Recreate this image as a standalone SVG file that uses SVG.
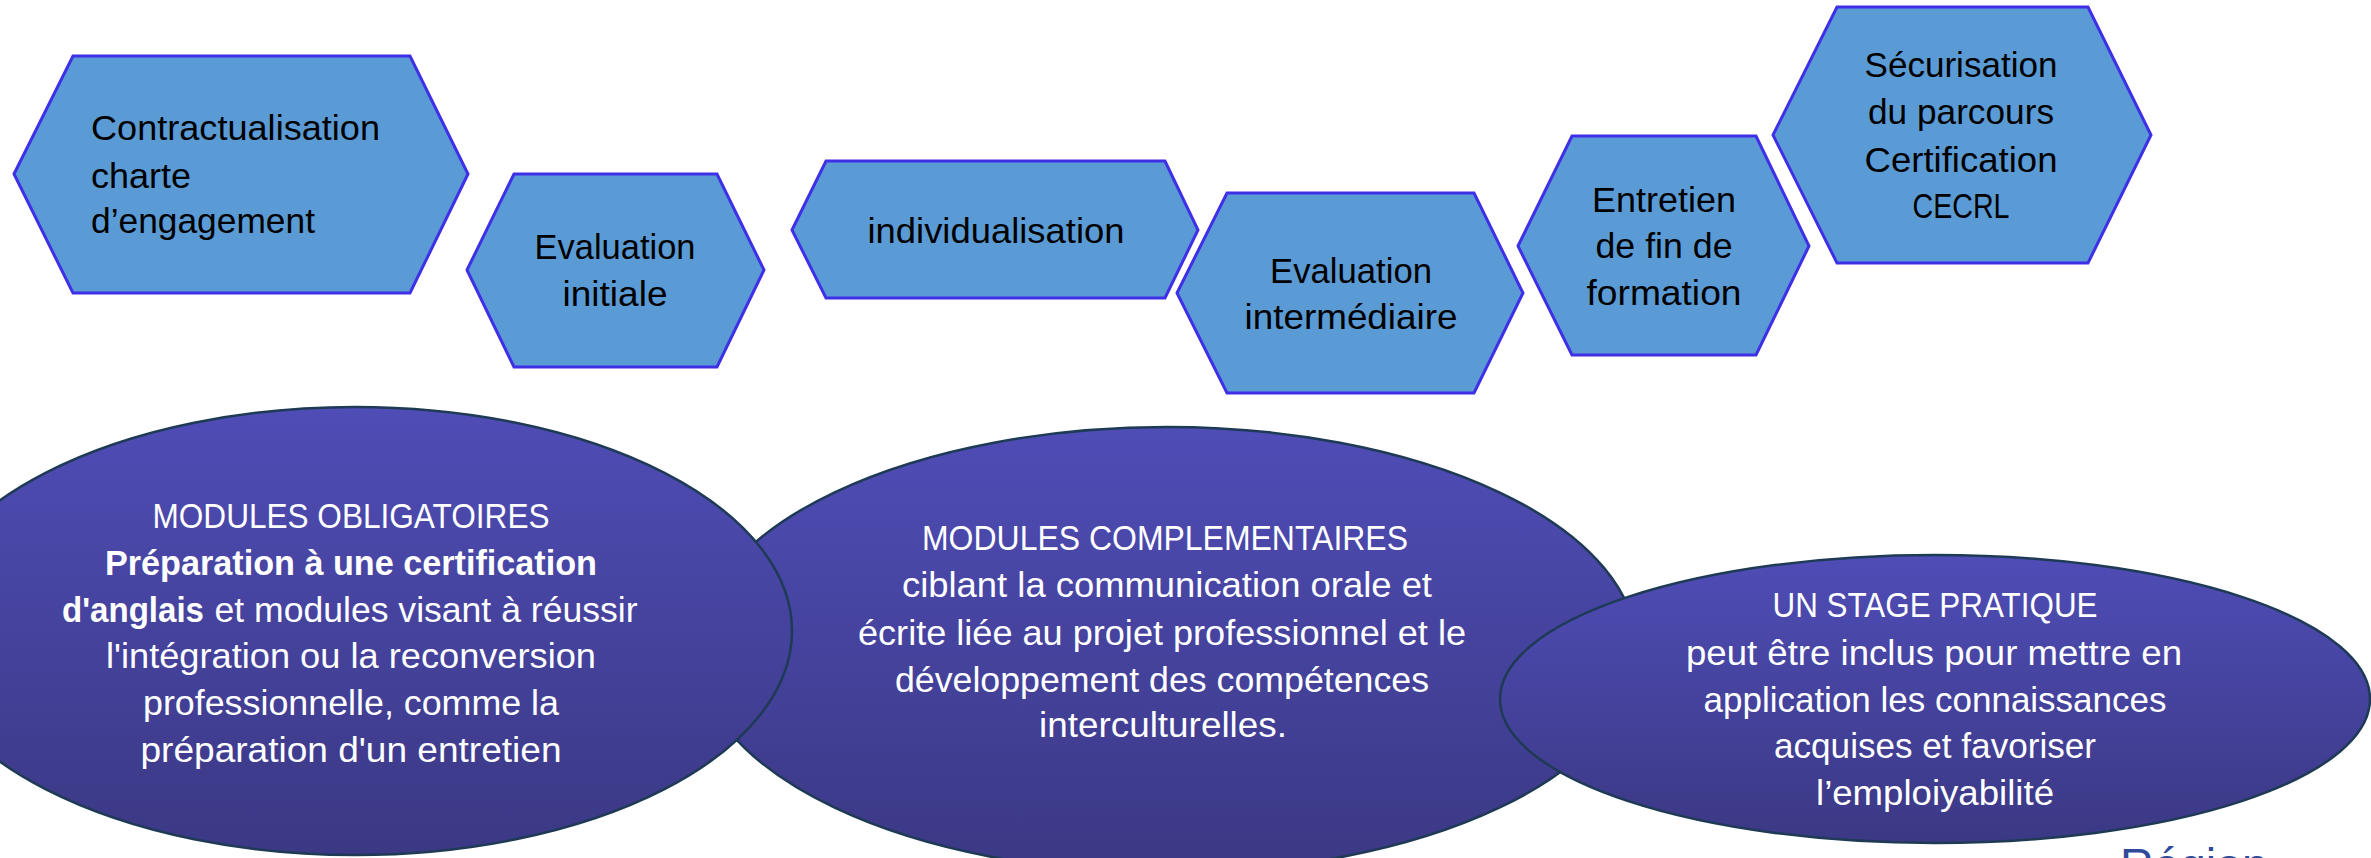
<svg xmlns="http://www.w3.org/2000/svg" width="2371" height="858" viewBox="0 0 2371 858">
<defs>
<linearGradient id="ovalGrad" x1="0" y1="0" x2="0" y2="1">
<stop offset="0" stop-color="#4F4DB6"/>
<stop offset="1" stop-color="#3B3884"/>
</linearGradient>
<style>
.hex{fill:#5B9BD5;stroke:#3F2FE6;stroke-width:3;stroke-linejoin:miter}
.oval{fill:url(#ovalGrad);stroke:#1E3A55;stroke-width:2.5}
.ht{font-family:"Liberation Sans",Arial,sans-serif;font-size:35px;fill:#000}
.ot{font-family:"Liberation Sans",Arial,sans-serif;font-size:35px;fill:#FFFFFF;text-anchor:middle}
.c{text-anchor:middle}
.b{font-weight:bold}
</style>
</defs>
<rect width="2371" height="858" fill="#FFFFFF"/>
<g id="connectors"/>

<g id="node-contractualisation">
<polygon class="hex" points="14,174 73,56 410,56 468,174 410,293 73,293"/>
<text class="ht" x="91" y="140" textLength="289" lengthAdjust="spacingAndGlyphs">Contractualisation</text>
<text class="ht" x="91" y="188" textLength="100" lengthAdjust="spacingAndGlyphs">charte</text>
<text class="ht" x="91" y="233" textLength="224" lengthAdjust="spacingAndGlyphs">d’engagement</text>
</g>

<g id="node-evaluation-initiale">
<polygon class="hex" points="467,270 514,174 717,174 764,270 717,367 514,367"/>
<text class="ht c" x="615" y="259" textLength="161" lengthAdjust="spacingAndGlyphs">Evaluation</text>
<text class="ht c" x="615" y="306" textLength="105" lengthAdjust="spacingAndGlyphs">initiale</text>
</g>

<g id="node-individualisation">
<polygon class="hex" points="792,230 826,161 1165,161 1198,230 1165,298 826,298"/>
<text class="ht c" x="996" y="243" textLength="257" lengthAdjust="spacingAndGlyphs">individualisation</text>
</g>

<g id="node-evaluation-intermediaire">
<polygon class="hex" points="1177,293 1227,193 1474,193 1523,293 1474,393 1227,393"/>
<text class="ht c" x="1351" y="283" textLength="162" lengthAdjust="spacingAndGlyphs">Evaluation</text>
<text class="ht c" x="1351" y="329" textLength="213" lengthAdjust="spacingAndGlyphs">intermédiaire</text>
</g>

<g id="node-entretien-fin">
<polygon class="hex" points="1518,246 1572,136 1756,136 1809,246 1756,355 1572,355"/>
<text class="ht c" x="1664" y="212" textLength="144" lengthAdjust="spacingAndGlyphs">Entretien</text>
<text class="ht c" x="1664" y="258" textLength="137" lengthAdjust="spacingAndGlyphs">de fin de</text>
<text class="ht c" x="1664" y="305" textLength="155" lengthAdjust="spacingAndGlyphs">formation</text>
</g>

<g id="node-securisation">
<polygon class="hex" points="1773,135 1837,7 2088,7 2151,135 2088,263 1837,263"/>
<text class="ht c" x="1961" y="77" textLength="193" lengthAdjust="spacingAndGlyphs">Sécurisation</text>
<text class="ht c" x="1961" y="124" textLength="186" lengthAdjust="spacingAndGlyphs">du parcours</text>
<text class="ht c" x="1961" y="172" textLength="193" lengthAdjust="spacingAndGlyphs">Certification</text>
<text class="ht c" x="1961" y="218" textLength="97" lengthAdjust="spacingAndGlyphs">CECRL</text>
</g>

<g id="node-modules-complementaires">
<ellipse class="oval" cx="1167" cy="650" rx="470" ry="223"/>
<text class="ot" x="1165" y="550" textLength="486" lengthAdjust="spacingAndGlyphs">MODULES COMPLEMENTAIRES</text>
<text class="ot" x="1167" y="597" textLength="530" lengthAdjust="spacingAndGlyphs">ciblant la communication orale et</text>
<text class="ot" x="1162" y="645" textLength="608" lengthAdjust="spacingAndGlyphs">écrite liée au projet professionnel et le</text>
<text class="ot" x="1162" y="692" textLength="534" lengthAdjust="spacingAndGlyphs">développement des compétences</text>
<text class="ot" x="1163" y="737" textLength="248" lengthAdjust="spacingAndGlyphs">interculturelles.</text>
</g>

<g id="node-modules-obligatoires">
<ellipse class="oval" cx="355" cy="631" rx="437" ry="224"/>
<text class="ot" x="351" y="528" textLength="397" lengthAdjust="spacingAndGlyphs">MODULES OBLIGATOIRES</text>
<text class="ot b" x="351" y="575" textLength="492" lengthAdjust="spacingAndGlyphs">Préparation à une certification</text>
<text class="ot b" x="133" y="622" textLength="142" lengthAdjust="spacingAndGlyphs">d'anglais</text>
<text class="ot" x="426" y="622" textLength="423" lengthAdjust="spacingAndGlyphs">et modules visant à réussir</text>
<text class="ot" x="351" y="668" textLength="490" lengthAdjust="spacingAndGlyphs">l'intégration ou la reconversion</text>
<text class="ot" x="351" y="715" textLength="416" lengthAdjust="spacingAndGlyphs">professionnelle, comme la</text>
<text class="ot" x="351" y="762" textLength="421" lengthAdjust="spacingAndGlyphs">préparation d'un entretien</text>
</g>

<g id="node-stage-pratique">
<ellipse class="oval" cx="1935" cy="699" rx="435" ry="144"/>
<text class="ot" x="1935" y="617" textLength="325" lengthAdjust="spacingAndGlyphs">UN STAGE PRATIQUE</text>
<text class="ot" x="1934" y="665" textLength="496" lengthAdjust="spacingAndGlyphs">peut être inclus pour mettre en</text>
<text class="ot" x="1935" y="712" textLength="463" lengthAdjust="spacingAndGlyphs">application les connaissances</text>
<text class="ot" x="1935" y="758" textLength="322" lengthAdjust="spacingAndGlyphs">acquises et favoriser</text>
<text class="ot" x="1935" y="805" textLength="238" lengthAdjust="spacingAndGlyphs">l’emploiyabilité</text>
</g>

<g id="label-region">
<text x="2120" y="882" font-family="'Liberation Sans',Arial,sans-serif" font-size="48" fill="#2F4A9A" textLength="148" lengthAdjust="spacingAndGlyphs">Région</text>
</g>
</svg>
